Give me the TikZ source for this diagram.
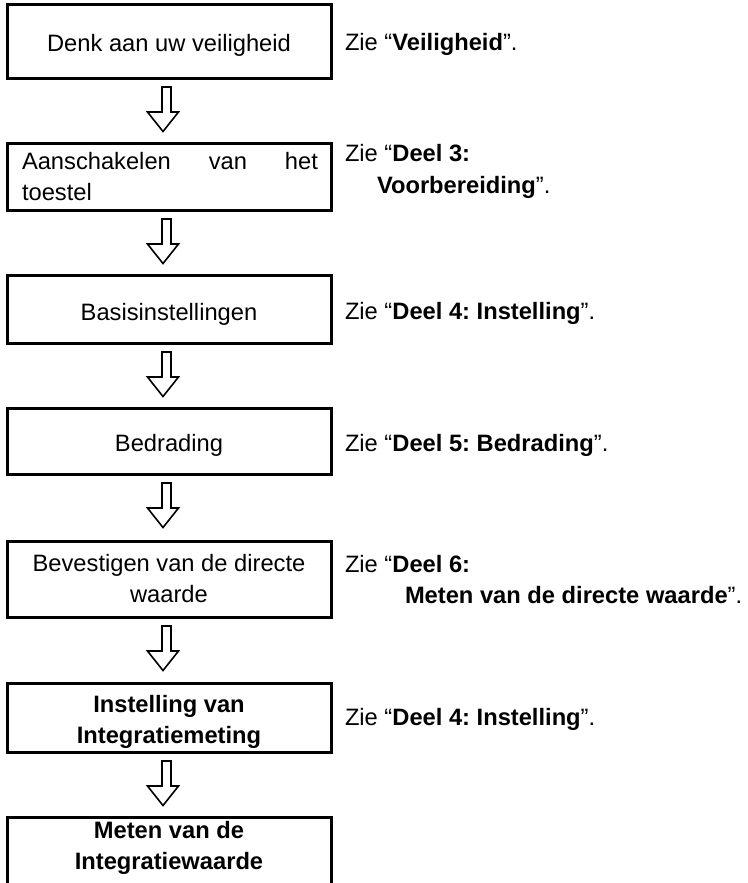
\documentclass[tikz,border=0pt]{standalone}
\usepackage{fontspec}
\setmainfont{Liberation Sans}
\usetikzlibrary{calc}
\frenchspacing
% hollow downward arrow hanging below a step box
\newcommand\flowarrow[1]{%
  \draw[arrowline] ($(#1.south)+(-7,9)$) -- ++(0,25) -- ++(-14.5,0)
    -- ++(15.5,19.5) -- ++(15.5,-19.5) -- ++(-7.5,0) -- ++(0,-25) -- cycle;}
\begin{document}
\begin{tikzpicture}[x=1pt,y=-1pt,
  stepbox/.style={draw, line width=3pt, minimum width=324pt, inner sep=0pt, outer sep=0pt},
  txt/.style={inner sep=0pt, outer sep=0pt, font=\fontsize{23.7}{31.5}\selectfont},
  arrowline/.style={line width=1.6pt, line join=miter}]
\useasboundingbox (0,0) rectangle (747,883);

% step boxes
\node[stepbox, minimum height=73pt] (b1) at (169,41.5) {};
\node[stepbox, minimum height=67pt] (b2) at (169,176.5) {};
\node[stepbox, minimum height=68pt] (b3) at (169,309) {};
\node[stepbox, minimum height=66pt] (b4) at (169,441) {};
\node[stepbox, minimum height=76pt] (b5) at (169,579) {};
\node[stepbox, minimum height=69pt] (b6) at (169,717.5) {};
\node[stepbox, minimum height=78pt] (b7) at (169,856) {};

% box texts
\node[txt, anchor=base] (t1) at (169,52) {Denk aan uw veiligheid};
\node[txt, anchor=base west] (t2) at (22,169)
  {\parbox[t]{296pt}{Aanschakelen\hfill van\hfill het\\toestel}};
\node[txt, anchor=base] (t3) at (169,320) {Basisinstellingen};
\node[txt, anchor=base] (t4) at (169,451) {Bedrading};
\node[txt, anchor=base] (t5) at (169,571)
  {\parbox[t]{310pt}{\centering Bevestigen van de directe\\waarde}};
\node[txt, anchor=base] (t6) at (169,712)
  {\parbox[t]{310pt}{\centering\bfseries Instelling van\\Integratiemeting}};
\node[txt, anchor=base] (t7) at (169,838)
  {\parbox[t]{310pt}{\centering\bfseries Meten van de\\Integratiewaarde}};

% references on the right
\node[txt, anchor=base west] (r1) at (345,51) {Zie “\textbf{Veiligheid}”.};
\node[txt, anchor=base west] (r2a) at (345,161) {Zie “\textbf{Deel 3:}};
\node[txt, anchor=base west] (r2b) at (377,193) {\textbf{Voorbereiding}”.};
\node[txt, anchor=base west] (r3) at (345,319) {Zie “\textbf{Deel 4: Instelling}”.};
\node[txt, anchor=base west] (r4) at (345,451) {Zie “\textbf{Deel 5: Bedrading}”.};
\node[txt, anchor=base west] (r5a) at (345,572) {Zie “\textbf{Deel 6:}};
\node[txt, anchor=base west] (r5b) at (405,603) {\textbf{Meten van de directe waarde}”.};
\node[txt, anchor=base west] (r6) at (345,725) {Zie “\textbf{Deel 4: Instelling}”.};

% arrows between the steps
\flowarrow{b1}
\flowarrow{b2}
\flowarrow{b3}
\flowarrow{b4}
\flowarrow{b5}
\flowarrow{b6}
\end{tikzpicture}
\end{document}
